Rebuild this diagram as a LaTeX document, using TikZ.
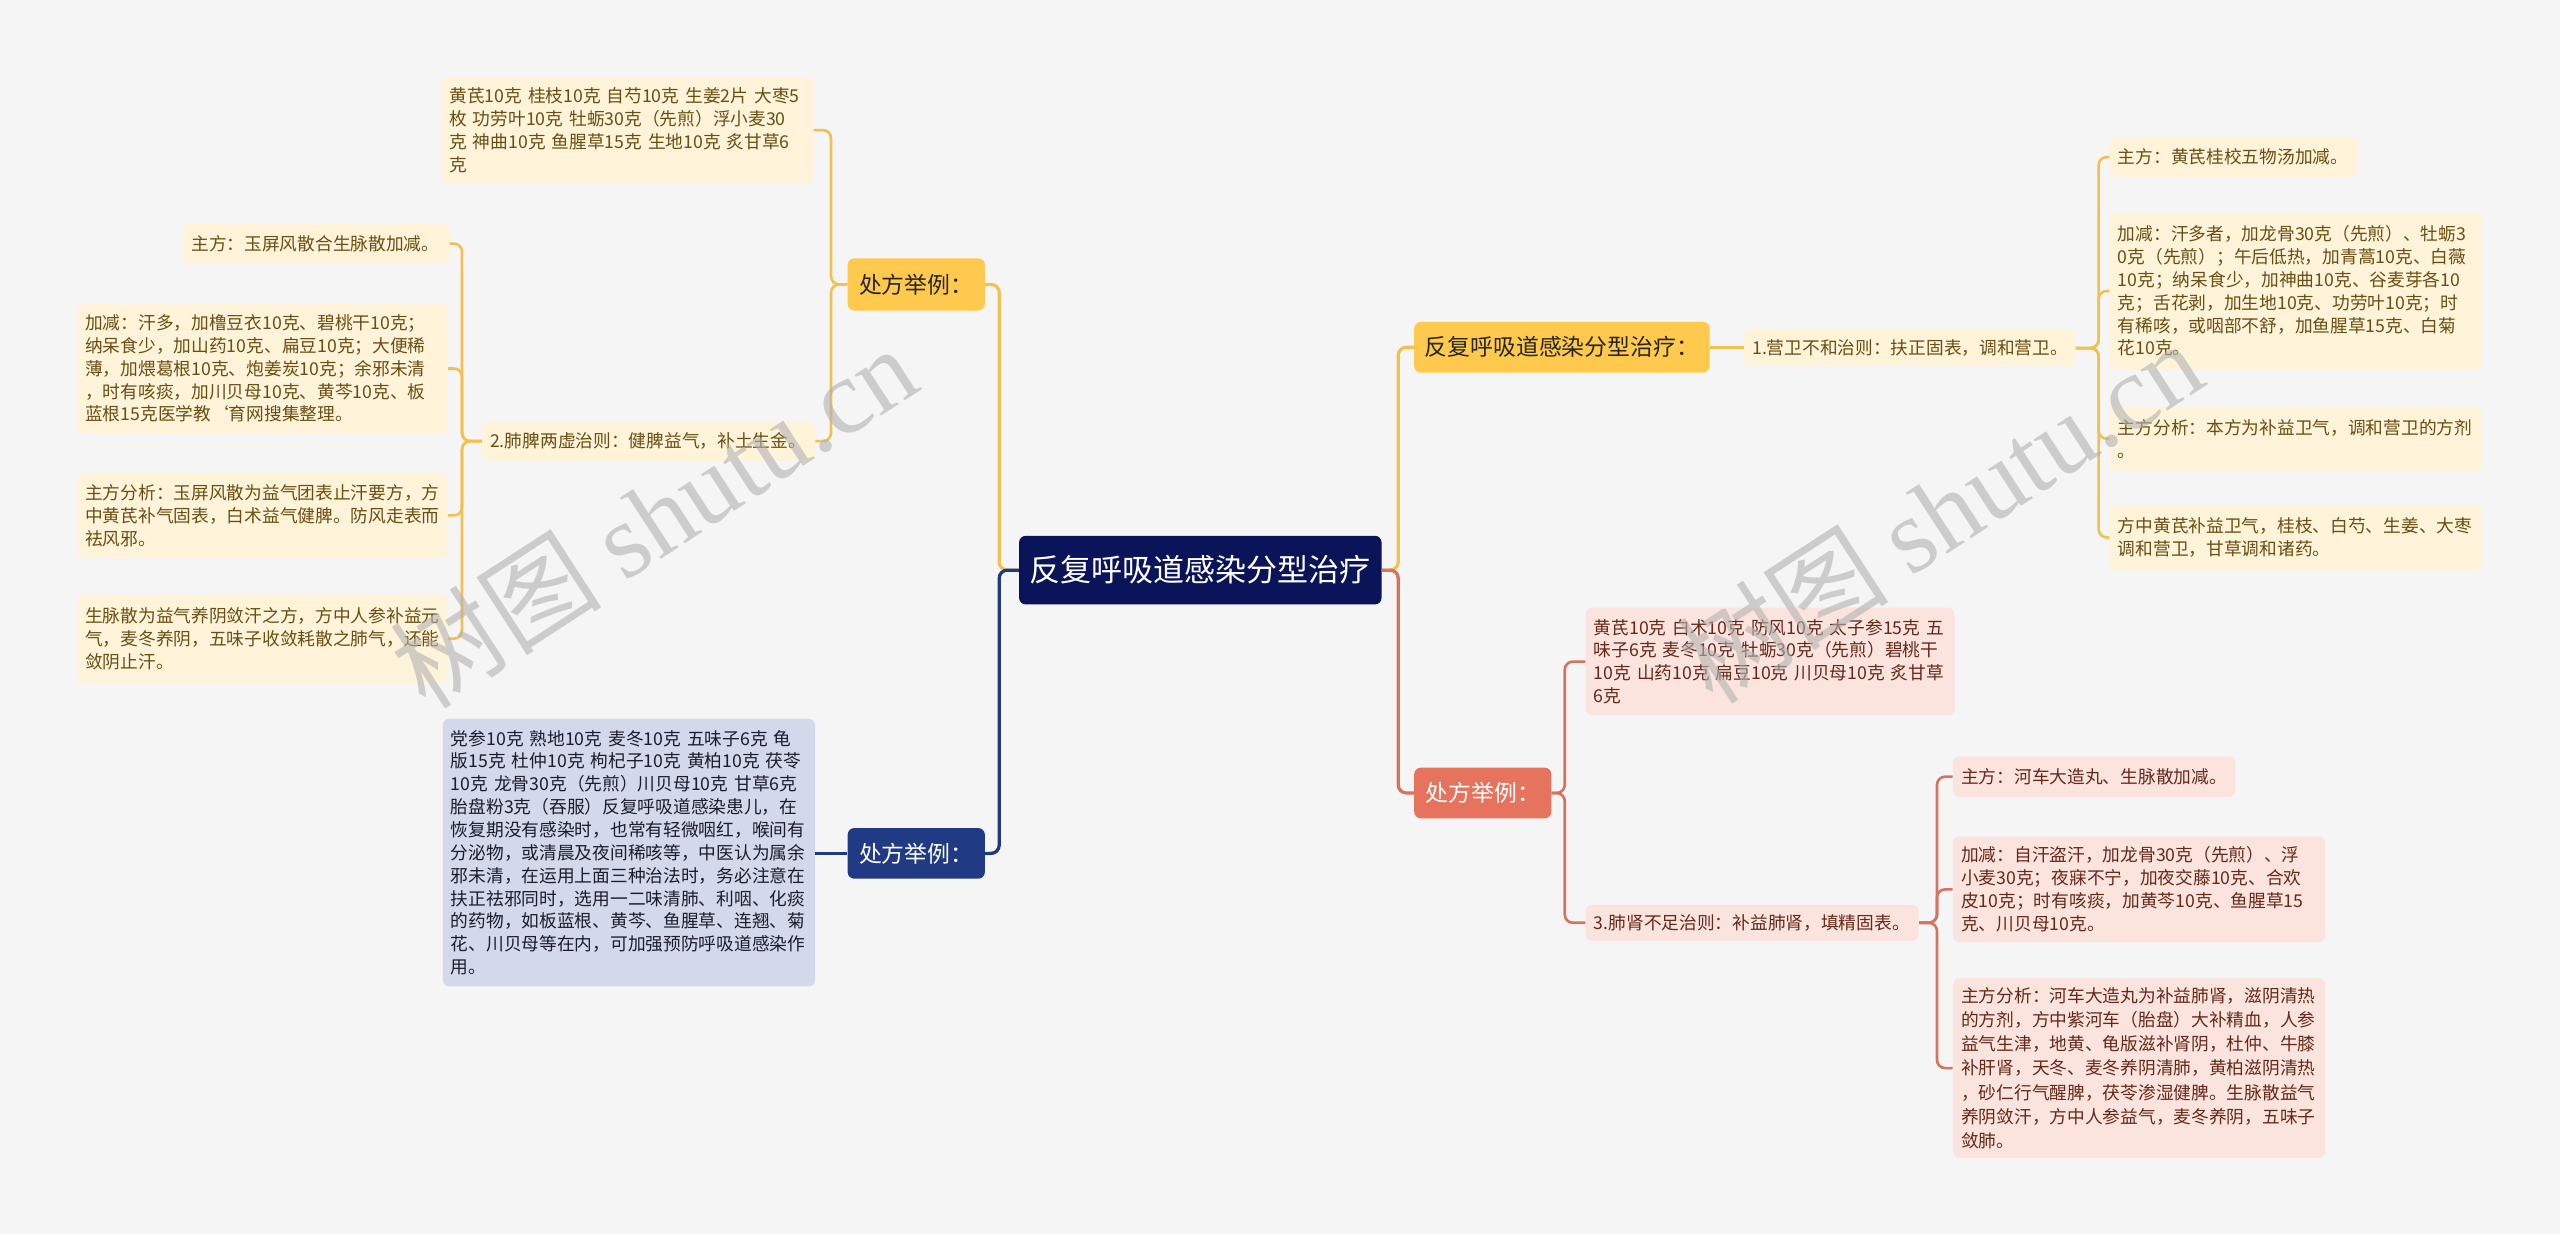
\documentclass[tikz,border=0pt]{standalone}
\usepackage{fontspec}
\setmainfont{Noto Sans CJK SC}
\newfontfamily\wmserif{Liberation Serif}
\definecolor{bgc}{HTML}{F5F5F5}
\definecolor{ymain}{HTML}{FFC94D}
\definecolor{ycream}{HTML}{FFF3D9}
\definecolor{ytext}{HTML}{6A4E12}
\definecolor{yln}{HTML}{F0C150}
\definecolor{rmain}{HTML}{E5735D}
\definecolor{rcream}{HTML}{FBE4DE}
\definecolor{rtext}{HTML}{662818}
\definecolor{rln}{HTML}{D6735F}
\definecolor{bmain}{HTML}{213A84}
\definecolor{bcream}{HTML}{D3D9EA}
\definecolor{btext}{HTML}{1C1C2C}
\definecolor{bln}{HTML}{1E3A80}
\definecolor{cmain}{HTML}{0C1459}
\tikzset{
  leaffont/.style={font=\fontsize{10.85pt}{14pt}\selectfont},
  leafbox/.style={leaffont, rounded corners=4pt, inner xsep=5pt, inner ysep=2pt, align=left, anchor=north west},
  yleaf/.style={leafbox, fill=ycream, text=ytext},
  rleaf/.style={leafbox, fill=rcream, text=rtext},
  bleaf/.style={leafbox, fill=bcream, text=btext},
  mainbox/.style={rounded corners=4pt, inner sep=0pt, anchor=north west, font=\fontsize{14pt}{16pt}\selectfont},
  ln/.style={line width=1.6pt, rounded corners=5pt},
  yline/.style={ln, draw=yln},
  rline/.style={ln, draw=rln},
  bline/.style={ln, draw=bln},
  wmark/.style={rotate=33, text=black!30, opacity=0.6, font=\fontsize{65pt}{65pt}\selectfont},
}
\begin{document}
\begin{tikzpicture}[x=1pt,y=-1pt]
\fill[bgc] (0,0) rectangle (1568,756);
\useasboundingbox (0,0) rectangle (1568,756);

% center
\node[rounded corners=4pt, fill=cmain, text=white, minimum width=222pt, minimum height=42pt, inner sep=0pt, anchor=north west, font=\fontsize{19pt}{22pt}\selectfont] (c) at (624,328) {反复呼吸道感染分型治疗};

% left main boxes
\node[mainbox, fill=ymain, text=black!85, minimum width=84pt, minimum height=32pt] (yL) at (519,158) {处方举例：};
\node[mainbox, fill=bmain, text=white, minimum width=84pt, minimum height=31pt] (bL) at (519,507) {处方举例：};

% right main boxes
\node[mainbox, fill=ymain, text=black!85, minimum width=181pt, minimum height=31pt] (yR) at (866,197) {反复呼吸道感染分型治疗：};
\node[mainbox, fill=rmain, text=white, minimum width=84pt, minimum height=31pt] (rR) at (866,470) {处方举例：};

% left yellow subtree
\node[yleaf, text width=218pt, minimum height=65pt] (ya) at (270,47) {黄芪10克~桂枝10克~自芍10克~生姜2片~大枣5\\枚~功劳叶10克~牡蛎30克（先煎）浮小麦30\\克~神曲10克~鱼腥草15克~生地10克~炙甘草6\\克};
\node[yleaf, text width=194pt, minimum height=24pt] (y2) at (295,258) {2.肺脾两虚治则：健脾益气，补土生金。};
\node[yleaf, text width=153pt, minimum height=24pt] (b1) at (112,137) {主方：玉屏风散合生脉散加减。};
\node[yleaf, text width=217pt, minimum height=79pt] (b2) at (47,186) {加减：汗多，加橹豆衣10克、碧桃干10克；\\纳呆食少，加山药10克、扁豆10克；大便稀\\薄，加煨葛根10克、炮姜炭10克；余邪未清\\，时有咳痰，加川贝母10克、黄芩10克、板\\蓝根15克医学教`育网搜集整理。};
\node[yleaf, text width=217pt, minimum height=51pt] (b3) at (47,290) {主方分析：玉屏风散为益气团表止汗要方，方\\中黄芪补气固表，白术益气健脾。防风走表而\\祛风邪。};
\node[yleaf, text width=217pt, minimum height=54pt] (b4) at (47,364) {生脉散为益气养阴敛汗之方，方中人参补益元\\气，麦冬养阴，五味子收敛耗散之肺气，还能\\敛阴止汗。};

% left blue
\node[bleaf, text width=218pt, minimum height=164pt] (bb) at (271,440) {党参10克~熟地10克~麦冬10克~五味子6克~龟\\版15克~杜仲10克~枸杞子10克~黄柏10克~茯苓\\10克~龙骨30克（先煎）川贝母10克~甘草6克\\胎盘粉3克（吞服）反复呼吸道感染患儿，在\\恢复期没有感染时，也常有轻微咽红，喉间有\\分泌物，或清晨及夜间稀咳等，中医认为属余\\邪未清，在运用上面三种治法时，务必注意在\\扶正祛邪同时，选用一二味清肺、利咽、化痰\\的药物，如板蓝根、黄芩、鱼腥草、连翘、菊\\花、川贝母等在内，可加强预防呼吸道感染作\\用。};

% right yellow subtree
\node[yleaf, text width=193pt, minimum height=22pt] (r1) at (1068,202) {1.营卫不和治则：扶正固表，调和营卫。};
\node[yleaf, text width=142pt, minimum height=24pt] (s1) at (1292,84) {主方：黄芪桂校五物汤加减。};
\node[yleaf, text width=218pt, minimum height=96pt] (s2) at (1292,130) {加减：汗多者，加龙骨30克（先煎）、牡蛎3\\0克（先煎）；午后低热，加青蒿10克、白薇\\10克；纳呆食少，加神曲10克、谷麦芽各10\\克；舌花剥，加生地10克、功劳叶10克；时\\有稀咳，或咽部不舒，加鱼腥草15克、白菊\\花10克。};
\node[yleaf, text width=218pt, minimum height=39pt] (s3) at (1292,249) {主方分析：本方为补益卫气，调和营卫的方剂\\。};
\node[yleaf, text width=218pt, minimum height=40pt] (s4) at (1292,309) {方中黄芪补益卫气，桂枝、白芍、生姜、大枣\\调和营卫，甘草调和诸药。};

% right red subtree
\node[rleaf, text width=216pt, minimum height=66pt] (p1) at (971,372) {黄芪10克~白术10克~防风10克~太子参15克~五\\味子6克~麦冬10克~牡蛎30克（先煎）碧桃干\\10克~山药10克~扁豆10克~川贝母10克~炙甘草\\6克};
\node[rleaf, text width=194pt, minimum height=22pt] (p3) at (971,554) {3.肺肾不足治则：补益肺肾，填精固表。};
\node[rleaf, text width=163pt, minimum height=25pt] (q1) at (1196,463) {主方：河车大造丸、生脉散加减。};
\node[rleaf, text width=218pt, minimum height=65pt] (q2) at (1196,512) {加减：自汗盗汗，加龙骨30克（先煎）、浮\\小麦30克；夜寐不宁，加夜交藤10克、合欢\\皮10克；时有咳痰，加黄芩10克、鱼腥草15\\克、川贝母10克。};
\node[rleaf, text width=218pt, minimum height=110pt, font=\fontsize{10.85pt}{14.8pt}\selectfont] (q3) at (1196,599) {主方分析：河车大造丸为补益肺肾，滋阴清热\\的方剂，方中紫河车（胎盘）大补精血，人参\\益气生津，地黄、龟版滋补肾阴，杜仲、牛膝\\补肝肾，天冬、麦冬养阴清肺，黄柏滋阴清热\\，砂仁行气醒脾，茯苓渗湿健脾。生脉散益气\\养阴敛汗，方中人参益气，麦冬养阴，五味子\\敛肺。};

% connectors from center
\draw[yline, line width=2pt] (c.west) -- ++(-12,0) |- (yL.east);
\draw[bline, line width=2pt] (c.west) -- ++(-12,0) |- (bL.east);
\draw[yline, line width=2pt] (c.east) -- ++(10,0) |- (yR.west);
\draw[rline, line width=2pt] (c.east) -- ++(10,0) |- (rR.west);

% left yellow
\draw[yline] (yL.west) -- ++(-10,0) |- (ya.east);
\draw[yline] (yL.west) -- ++(-10,0) |- (y2.east);
\foreach \n in {b1,b2,b3,b4} \draw[yline] (y2.west) -- ++(-12,0) |- (\n.east);
% left blue
\draw[bline] (bL.west) -- (bb.east |- bL.west);

% right yellow
\draw[yline] (yR.east) -- (r1.west |- yR.east);
\foreach \n in {s1,s2,s3,s4} \draw[yline] (r1.east) -- ++(14,0) |- (\n.west);

% right red
\draw[rline] (rR.east) -- ++(8,0) |- (p1.west);
\draw[rline] (rR.east) -- ++(8,0) |- (p3.west);
\foreach \n in {q1,q2,q3} \draw[rline] (p3.east) -- ++(11,0) |- (\n.west);

% watermarks
\node[wmark] (wm1) at (400,316) {树图 {\wmserif shutu.cn}};
\node[wmark] (wm2) at (1188,313) {树图 {\wmserif shutu.cn}};
\end{tikzpicture}
\end{document}
